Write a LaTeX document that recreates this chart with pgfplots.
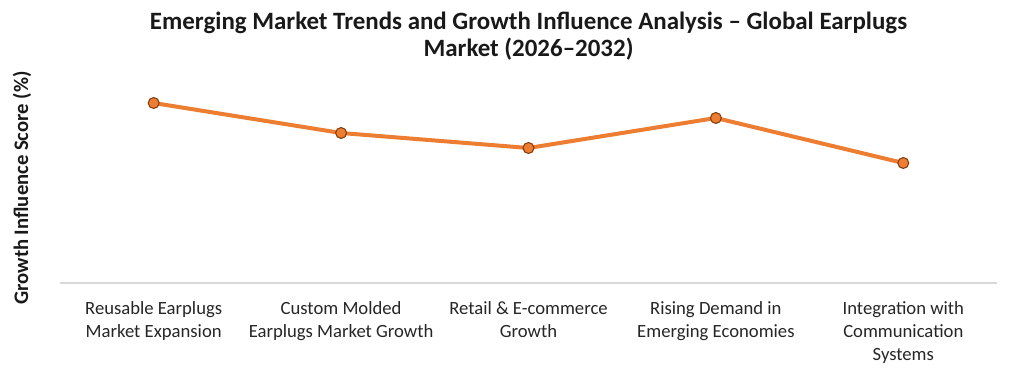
\documentclass[border=0pt]{standalone}
\usepackage{pgfplots}
\pgfplotsset{compat=1.18}
\usepackage{fontspec}
\setmainfont{Carlito}
\definecolor{lineorange}{HTML}{ED7D31}
\definecolor{markedge}{HTML}{843C0C}
\definecolor{axisgray}{HTML}{D9D9D9}
\begin{document}
\begin{tikzpicture}[x=1pt,y=1pt]
\useasboundingbox (-45pt,-70.5pt) rectangle (721.5pt,212.25pt);
\begin{axis}[
  at={(0,0)}, anchor=south west,
  scale only axis,
  width=702.75pt, height=157.5pt,
  xmin=-0.5, xmax=4.5, ymin=0, ymax=35,
  axis line style={draw=none},
  axis x line*=bottom,
  axis y line=none,
  xtick={0,1,2,3,4},
  xticklabels={{Reusable Earplugs\\Market Expansion},{Custom Molded\\Earplugs Market Growth},{Retail \& E-commerce\\Growth},{Rising Demand in\\Emerging Economies},{Integration with\\Communication\\Systems}},
  xticklabel style={align=center, font=\fontsize{14pt}{17.25pt}\selectfont, text=black!85, yshift=-10pt},
  major tick length=0pt,
  ytick=\empty,
  clip=false,
]
\draw[axisgray, line width=1.2pt] (rel axis cs:0,0) -- (rel axis cs:1,0);
\addplot[lineorange, line width=3pt, mark=*, mark size=4.1pt,
  mark options={fill=lineorange, draw=markedge, line width=0.8pt}]
  coordinates {(0,30) (1,25) (2,22.5) (3,27.5) (4,20)};
\end{axis}
\node[font=\bfseries\fontsize{18.7pt}{20.5pt}\selectfont, align=center, text=black!90] at (351.4pt,185pt)
  {Emerging Market Trends and Growth Influence Analysis – Global Earplugs\\Market (2026–2032)};
\node[font=\bfseries\fontsize{15.5pt}{16pt}\selectfont, rotate=90, text=black!90] at (-28.5pt,71.25pt)
  {Growth Influence Score (\%)};
\end{tikzpicture}
\end{document}
